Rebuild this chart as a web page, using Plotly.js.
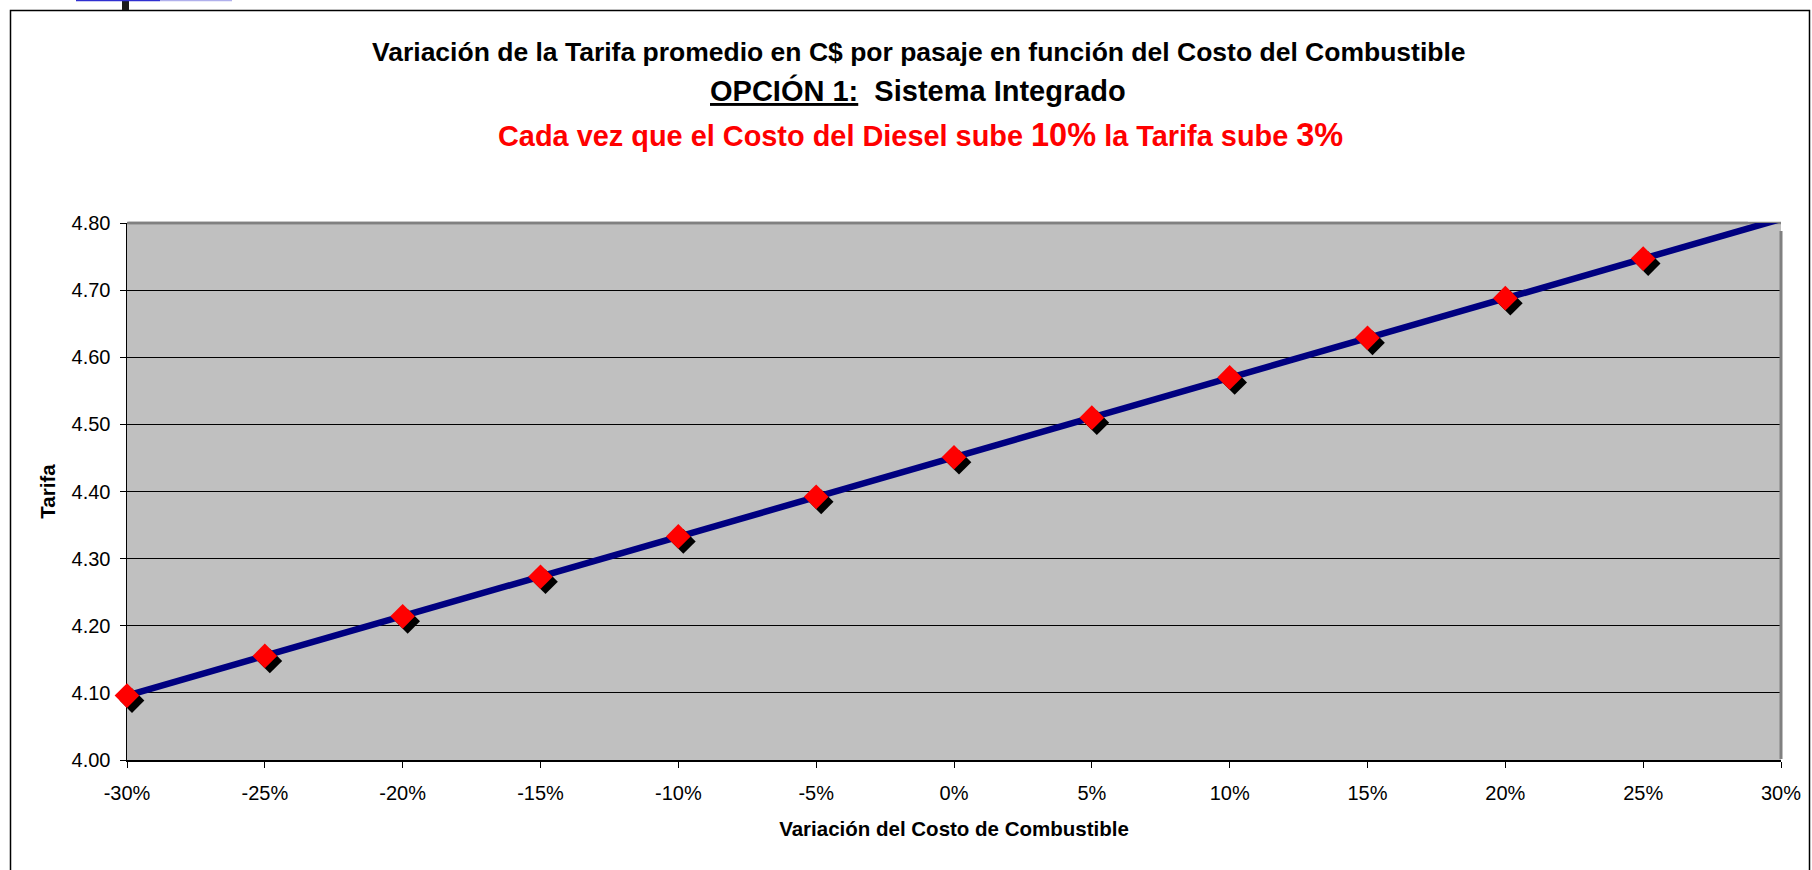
<!DOCTYPE html>
<html>
<head>
<meta charset="utf-8">
<script src="https://cdn.plot.ly/plotly-3.0.1.min.js"></script>
<style>
html, body { margin: 0; padding: 0; background: #ffffff; }
#chart { width: 1812px; height: 870px; }
</style>
</head>
<body>
<div id="chart"></div>
<script>
// ---- data ----
var variacion = [-30, -25, -20, -15, -10, -5, 0, 5, 10, 15, 20, 25, 30];
var tarifaLinea = [4.096, 4.155, 4.214, 4.273, 4.333, 4.392, 4.451, 4.510, 4.570, 4.629, 4.688, 4.747, 4.806];
var variacionPuntos = [-30, -25, -20, -15, -10, -5, 0, 5, 10, 15, 20, 25];
var tarifaPuntos = [4.096, 4.155, 4.214, 4.273, 4.333, 4.392, 4.451, 4.510, 4.570, 4.629, 4.688, 4.747];
var xTickVals = [-30, -25, -20, -15, -10, -5, 0, 5, 10, 15, 20, 25, 30];
var xTickText = ['-30%', '-25%', '-20%', '-15%', '-10%', '-5%', '0%', '5%', '10%', '15%', '20%', '25%', '30%'];
var yTickVals = [4.0, 4.1, 4.2, 4.3, 4.4, 4.5, 4.6, 4.7, 4.8];

var FONT = 'Arial, "Liberation Sans", Helvetica, sans-serif';

// layout geometry (pixels)
var W = 1812, H = 870;
var mL = 127, mR = 26, mT = 223, mB = 105;
var PW = W - mL - mR;   // 1659
var PH = H - mT - mB;   // 542
var SH = 5;             // shadow offset
function px(x) { return (x - mL) / PW; }
function py(y) { return (H - mB - y) / PH; }

var traces = [
  { // line (main axes)
    x: variacion, y: tarifaLinea, xaxis: 'x', yaxis: 'y',
    type: 'scatter', mode: 'lines', cliponaxis: false,
    line: { color: '#000080', width: 6.5 },
    name: 'Tarifa', showlegend: false
  },
  { // shadow of markers (offset axes)
    x: variacionPuntos, y: tarifaPuntos, xaxis: 'x2', yaxis: 'y2',
    type: 'scatter', mode: 'markers', cliponaxis: false, hoverinfo: 'skip',
    marker: { symbol: 'diamond', size: 19, color: '#000000', line: { width: 0 } },
    showlegend: false
  },
  { // red markers
    x: variacionPuntos, y: tarifaPuntos, xaxis: 'x3', yaxis: 'y3',
    type: 'scatter', mode: 'markers', cliponaxis: false,
    marker: { symbol: 'diamond', size: 19, color: '#FF0000', line: { width: 0 } },
    name: 'Tarifa', showlegend: false
  }
];

var mainX0 = 0, mainX1 = (PW - SH) / PW;
var mainY0 = SH / PH, mainY1 = 1;

var layout = {
  width: W, height: H,
  margin: { l: mL, r: mR, t: mT, b: mB, pad: 0 },
  paper_bgcolor: '#ffffff',
  plot_bgcolor: 'rgba(0,0,0,0)',
  font: { family: FONT, color: '#000000', size: 20 },
  showlegend: false,
  xaxis: {
    domain: [mainX0, mainX1], anchor: 'y',
    range: [-30, 30], tickmode: 'array', tickvals: xTickVals, ticktext: xTickText,
    ticks: 'outside', ticklen: 6, tickwidth: 1, tickcolor: '#000000',
    ticklabelstandoff: 8,
    showline: true, linecolor: '#000000', linewidth: 1.5,
    showgrid: false, zeroline: false, fixedrange: true,
    tickfont: { family: FONT, size: 20, color: '#000000' },
    title: { text: '<b>Variación del Costo de Combustible</b>', font: { family: FONT, size: 20.5, color: '#000000' }, standoff: 19 }
  },
  yaxis: {
    domain: [mainY0, mainY1], anchor: 'x',
    range: [4.0, 4.8], tickmode: 'array', tickvals: yTickVals, tickformat: '.2f',
    ticks: 'outside', ticklen: 6, tickwidth: 1, tickcolor: '#000000',
    ticklabelstandoff: 5,
    showline: true, linecolor: '#000000', linewidth: 1.5,
    showgrid: true, gridcolor: '#000000', gridwidth: 1, zeroline: false, fixedrange: true,
    tickfont: { family: FONT, size: 20, color: '#000000' },
    title: { text: '<b>Tarifa</b>', font: { family: FONT, size: 20.5, color: '#000000' }, standoff: 10 }
  },
  xaxis2: { domain: [SH / PW, 1], anchor: 'y2', range: [-30, 30], visible: false, fixedrange: true },
  yaxis2: { domain: [0, (PH - SH) / PH], anchor: 'x2', range: [4.0, 4.8], visible: false, fixedrange: true },
  xaxis3: { domain: [mainX0, mainX1], anchor: 'y3', range: [-30, 30], visible: false, fixedrange: true },
  yaxis3: { domain: [mainY0, mainY1], anchor: 'x3', range: [4.0, 4.8], visible: false, fixedrange: true },
  shapes: [
    // plot area background
    { type: 'rect', xref: 'x domain', yref: 'y domain', x0: 0, x1: 1, y0: 0, y1: 1,
      fillcolor: '#C0C0C0', line: { width: 0 }, layer: 'below' },
    // outer frame
    { type: 'rect', xref: 'paper', yref: 'paper', x0: px(10.5), x1: px(1809.5), y0: py(880), y1: py(10.5),
      line: { color: '#000000', width: 1.5 }, fillcolor: 'rgba(0,0,0,0)', layer: 'below' },
    // plot area border (top and right, grey)
    { type: 'line', xref: 'x domain', yref: 'y domain', x0: 0, x1: 1, y0: 1, y1: 1,
      line: { color: '#808080', width: 2.5 }, layer: 'below' },
    { type: 'line', xref: 'x domain', yref: 'y domain', x0: 0.0008, x1: 0.98, y0: 1, y1: 1,
      line: { color: '#808080', width: 2.5 }, layer: 'above' },
    { type: 'line', xref: 'x domain', yref: 'y domain', x0: 1, x1: 1, y0: 0.002, y1: 0.985,
      line: { color: '#808080', width: 3 }, layer: 'above' },
    // slide artefacts at the top-left
    { type: 'rect', xref: 'paper', yref: 'paper', x0: px(122), x1: px(129), y0: py(10), y1: py(-2),
      line: { width: 0 }, fillcolor: '#1a1a1a', layer: 'above' },
    { type: 'line', xref: 'paper', yref: 'paper', x0: px(76), x1: px(160), y0: py(0.5), y1: py(0.5),
      line: { color: '#3030d0', width: 1.5 }, layer: 'above' },
    { type: 'line', xref: 'paper', yref: 'paper', x0: px(160), x1: px(232), y0: py(0.5), y1: py(0.5),
      line: { color: '#b0b0ec', width: 1.5 }, layer: 'above' }
  ],
  annotations: [
    { xref: 'paper', yref: 'paper', x: px(919), y: py(52), xanchor: 'center', yanchor: 'middle', showarrow: false,
      text: '<b>Variación de la Tarifa promedio en C$ por pasaje en función del Costo del Combustible</b>',
      font: { family: FONT, size: 26.5, color: '#000000' } },
    { xref: 'paper', yref: 'paper', x: px(918), y: py(90), xanchor: 'center', yanchor: 'middle', showarrow: false,
      text: '<b><span style="text-decoration:underline">OPCIÓN 1:</span>\u00a0 Sistema Integrado</b>',
      font: { family: FONT, size: 29, color: '#000000' } },
    { xref: 'paper', yref: 'paper', x: px(920), y: py(135), xanchor: 'center', yanchor: 'middle', showarrow: false,
      text: '<b>Cada vez que el Costo del Diesel sube <span style="font-size:32.5px">10%</span> la Tarifa sube <span style="font-size:32.5px">3%</span></b>',
      font: { family: FONT, size: 28.9, color: '#FF0000' } }
  ]
};

Plotly.newPlot('chart', traces, layout, { staticPlot: true, displayModeBar: false });
</script>
</body>
</html>
